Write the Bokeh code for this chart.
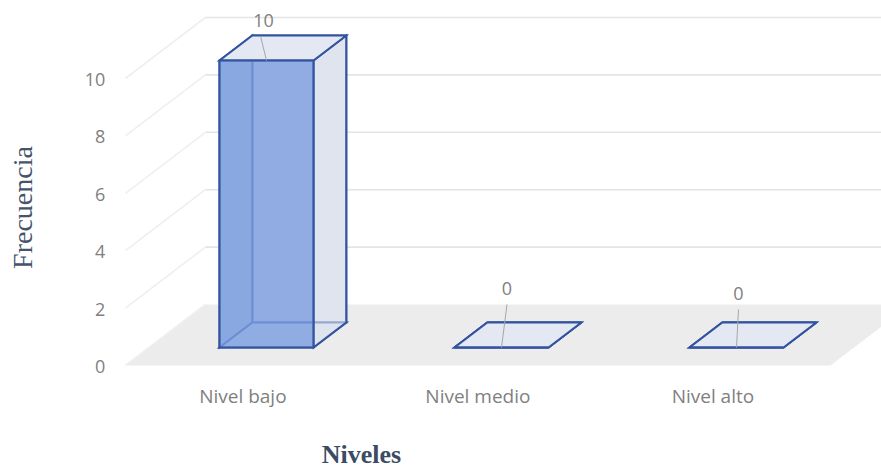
import math

from bokeh.core.properties import value
from bokeh.embed import file_html
from bokeh.models import ColumnDataSource, Range1d
from bokeh.plotting import figure
from bokeh.resources import INLINE

# ---- data -------------------------------------------------------------
CATEGORIES = ["Nivel bajo", "Nivel medio", "Nivel alto"]
FRECUENCIA = [10, 0, 0]
Y_TICKS = [0, 2, 4, 6, 8, 10]
X_TITLE = "Niveles"
Y_TITLE = "Frecuencia"

# ---- pseudo-3D view settings ------------------------------------------
W, H = 881, 468
PX_X = 235.0                          # px per category unit
PX_Y = 28.7                           # px per value unit
ORIGIN_PX = (242.4, 365.0)            # screen position of (category 0, value 0)
X0 = -ORIGIN_PX[0] / PX_X
X1 = (W - ORIGIN_PX[0]) / PX_X
Y1 = ORIGIN_PX[1] / PX_Y
Y0 = (ORIGIN_PX[1] - H) / PX_Y
DEPTH_X = 80 / PX_X                   # shift of the back wall (x units)
DEPTH_Y = 61 / PX_Y                   # shift of the back wall (value units)
HALF_W = 0.2                          # half bar width
D_FRONT, D_BACK = 0.295, 0.705        # bar depth inside the floor


def proj(x, v, d):
    """Project a point (category x, value v, depth d) onto the 2D plot."""
    return x + DEPTH_X * d, v + DEPTH_Y * d


def quad(pts):
    xs, ys = zip(*[proj(*p) for p in pts])
    return list(xs), list(ys)


def px_to_x(px):
    return X0 + px / PX_X


def py_to_y(py):
    return Y1 - py / PX_Y


p = figure(
    width=W, height=H,
    x_range=Range1d(X0, X1), y_range=Range1d(Y0, Y1),
    x_axis_location=None, y_axis_location=None,
    output_backend="svg", toolbar_location=None,
    min_border=0,
)
p.outline_line_color = None
p.grid.visible = False
p.background_fill_color = "white"
p.border_fill_color = "white"

# ---- floor and walls --------------------------------------------------
n = len(CATEGORIES)
fx, fy = quad([(-0.5, 0, 0), (n - 0.5, 0, 0), (n - 0.5, 0, 1), (-0.5, 0, 1)])
p.patch(fx, fy, fill_color="#ececec", line_color=None)

for t in Y_TICKS:
    bx, by = quad([(-0.5, t, 1), (n - 0.5, t, 1)])     # back wall line
    sx, sy = quad([(-0.5, t, 0), (-0.5, t, 1)])        # left side wall line
    if t > 0:
        p.line(bx, by, line_color="#e4e4e4", line_width=1.6)
    p.line(sx, sy, line_color="#efefef", line_width=1.6)

# ---- bars -------------------------------------------------------------
edge = "#3353a0"
for i, val in enumerate(FRECUENCIA):
    xl, xr = i - HALF_W, i + HALF_W
    faces = [
        # back, left, bottom
        ([(xl, 0, D_BACK), (xr, 0, D_BACK), (xr, val, D_BACK), (xl, val, D_BACK)], "#e3e7f0", 1.0),
        ([(xl, 0, D_FRONT), (xl, 0, D_BACK), (xl, val, D_BACK), (xl, val, D_FRONT)], "#c3cfe8", 1.0),
        ([(xl, 0, D_FRONT), (xr, 0, D_FRONT), (xr, 0, D_BACK), (xl, 0, D_BACK)], "#dfe5f0", 1.0),
        # right, top
        ([(xr, 0, D_FRONT), (xr, 0, D_BACK), (xr, val, D_BACK), (xr, val, D_FRONT)], "#dde2ec", 0.6),
        ([(xl, val, D_FRONT), (xr, val, D_FRONT), (xr, val, D_BACK), (xl, val, D_BACK)], "#e3e8f2", 1.0),
        # front
        ([(xl, 0, D_FRONT), (xr, 0, D_FRONT), (xr, val, D_FRONT), (xl, val, D_FRONT)], "#7b9ee0", 0.8),
    ]
    for pts, color, alpha in faces:
        qx, qy = quad(pts)
        p.patch(qx, qy, fill_color=color, fill_alpha=alpha,
                line_color=edge, line_width=2, line_join="miter")

# ---- data labels with leader lines --------------------------------------
LABEL_DX = [-3, 5.5, 2]        # label offsets from the bar's front-top centre (px)
LABEL_DY = [-40.5, -59, -54]
anchor = [proj(i, val, D_FRONT) for i, val in enumerate(FRECUENCIA)]
ax = [a[0] for a in anchor]
ay = [a[1] for a in anchor]
lead_x1 = [x + (dx - (3 if dx < 0 else 0)) / PX_X for x, dx in zip(ax, LABEL_DX)]
lead_y1 = [y - (dy + 16) / PX_Y for y, dy in zip(ay, LABEL_DY)]
p.segment(ax, ay, lead_x1, lead_y1, line_color="#a6a6a6", line_width=1)

lbl_src = ColumnDataSource(dict(x=ax, y=ay, t=[str(v) for v in FRECUENCIA],
                                dx=LABEL_DX, dy=LABEL_DY))
p.text(x="x", y="y", text="t", x_offset="dx", y_offset="dy", source=lbl_src,
       text_font=value("Open Sans"), text_font_size="18px", text_color="#7f7f7f",
       text_align="center", text_baseline="middle")

# ---- value axis tick labels (on the front-left corner of the floor) -----
tick_src = ColumnDataSource(dict(x=[-0.5] * len(Y_TICKS), y=Y_TICKS,
                                 t=[str(t) for t in Y_TICKS]))
p.text(x="x", y="y", text="t", source=tick_src, x_offset=-20, y_offset=1,
       text_font=value("Open Sans"), text_font_size="18px", text_color="#7f7f7f",
       text_align="right", text_baseline="middle")

# ---- category labels ----------------------------------------------------
cat_src = ColumnDataSource(dict(x=list(range(n)), y=[0] * n, t=CATEGORIES))
p.text(x="x", y="y", text="t", source=cat_src, y_offset=30,
       text_font=value("Open Sans"), text_font_size="19px", text_color="#7f7f7f",
       text_align="center", text_baseline="middle")

# ---- axis titles ------------------------------------------------------
p.text(x=[px_to_x(22)], y=[py_to_y(207)], text=[Y_TITLE], angle=math.pi / 2,
       text_font=value("Liberation Serif"), text_font_size="28px",
       text_color="#44546a", text_align="center", text_baseline="middle")
p.text(x=[px_to_x(361)], y=[py_to_y(454)], text=[X_TITLE],
       text_font=value("Liberation Serif"), text_font_size="26px",
       text_font_style="bold", text_color="#3b4b63",
       text_align="center", text_baseline="middle")

open("out.html", "w").write(file_html(p, INLINE))
